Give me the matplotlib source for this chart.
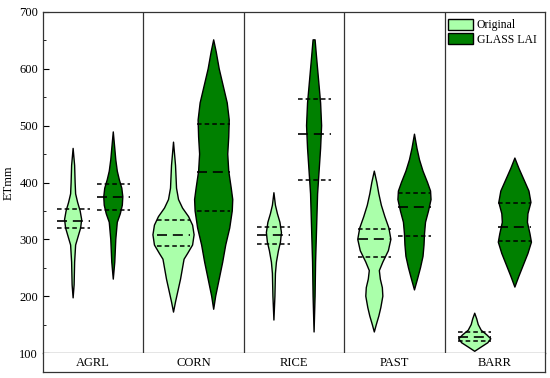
import numpy as np
import matplotlib.pyplot as plt
from matplotlib.patches import Patch
from matplotlib.ticker import MultipleLocator

plt.rcParams['font.family'] = ['Liberation Serif', 'DejaVu Serif']

categories = ['AGRL', 'CORN', 'RICE', 'PAST', 'BARR']
series = ['Original', 'GLASS LAI']
colors = ['#aaffaa', '#008000']

# violin outlines: ET value, half width (in px of a 100 px group)
orig_y = [
    [197, 220, 260, 290, 305, 320, 335, 350, 365, 380, 400, 430, 460],
    [172, 190, 210, 230, 250, 265, 275, 290, 308, 325, 340, 355, 370, 390, 430, 471],
    [158, 200, 240, 260, 280, 295, 312, 330, 345, 360, 382],
    [137, 150, 165, 180, 200, 215, 230, 245, 260, 280, 300, 320, 340, 360, 380, 400, 420],
    [103, 110, 118, 125, 132, 140, 150, 160, 170],
]
orig_w = [
    [0, 1, 1.5, 2.5, 5, 7.5, 8.5, 7, 4.5, 2.5, 2, 1.5, 0],
    [0, 2, 4.5, 7, 9, 10.5, 14, 19, 20.5, 19, 15, 9, 5, 3, 2, 0],
    [0, 1, 1.5, 2.5, 4.5, 6.5, 7.5, 6, 3.5, 1.5, 0],
    [0, 2, 4.5, 6.5, 8.5, 8, 6, 5, 8.5, 14, 16.5, 14.5, 10.5, 7, 4.5, 2.5, 0],
    [0, 6, 13, 16, 12, 6.5, 3.5, 2, 0],
]
glass_y = [
    [230, 260, 300, 330, 345, 360, 375, 390, 405, 420, 440, 460, 489],
    [177, 200, 230, 260, 290, 320, 350, 370, 390, 420, 450, 480, 510, 540, 570, 600, 630, 651],
    [137, 200, 260, 320, 380, 420, 460, 500, 540, 580, 620, 651],
    [211, 230, 250, 270, 290, 310, 330, 350, 370, 385, 400, 420, 440, 460, 485],
    [216, 235, 255, 275, 295, 310, 330, 345, 365, 385, 405, 425, 443],
]
glass_w = [
    [0, 1.5, 2.5, 4, 7, 9, 9.5, 8.5, 6, 4, 2.5, 1.5, 0],
    [0, 2, 5.5, 9, 12, 16, 18.5, 19, 17.5, 15, 14, 15, 15.5, 13.5, 9.5, 5.5, 2.5, 0],
    [0, 1, 1.5, 2.5, 3.5, 5, 6.5, 7.5, 6.5, 4.5, 2.5, 1],
    [0, 3, 6, 8.5, 9.5, 10, 11, 14, 16.5, 16, 13, 8.5, 5, 2.5, 0],
    [0, 4, 8.5, 13, 16.5, 15, 12.5, 13, 16, 14, 9, 4, 0],
]

# quartiles (q1, median, q3)
orig_q = [[320, 333, 353], [288, 308, 334], [292, 308, 322], [269, 300, 318], [121, 128, 137]]
glass_q = [[352, 374, 397], [350, 418, 503], [404, 485, 547], [306, 357, 381], [297, 322, 364]]

fig = plt.figure(figsize=(5.5, 3.78), dpi=100)
ax = fig.add_axes([43/550, 25/378, 502/550, 341/378])
lab = fig.add_axes([43/550, 6/378, 502/550, 19/378])


def violin(x, ys, ws, q, color):
    ys = np.array(ys, dtype=float)
    ws = np.array(ws, dtype=float) / 100
    xs = np.concatenate([x - ws, (x + ws)[::-1]])
    yy = np.concatenate([ys, ys[::-1]])
    ax.fill(xs, yy, facecolor=color, edgecolor='black', lw=1, joinstyle='round', zorder=2)
    h = 0.165
    ax.plot([x - h, x + h], [q[0], q[0]], color='black', lw=1.1, ls=(0, (3, 2)), zorder=3)
    ax.plot([x - h, x + h], [q[2], q[2]], color='black', lw=1.1, ls=(0, (3, 2)), zorder=3)
    ax.plot([x - h, x + h], [q[1], q[1]], color='black', lw=1.2, ls=(0, (6, 3.5)), zorder=3)


for i in range(len(categories)):
    violin(i - 0.2, orig_y[i], orig_w[i], orig_q[i], colors[0])
    violin(i + 0.2, glass_y[i], glass_w[i], glass_q[i], colors[1])
    if i > 0:
        ax.axvline(i - 0.5, color='#333333', lw=0.9, zorder=1)

ax.set_xlim(-0.5, len(categories) - 0.5)
ax.set_ylim(100, 700)
ax.set_xticks([])
ax.yaxis.set_major_locator(MultipleLocator(100))
ax.yaxis.set_minor_locator(MultipleLocator(50))
ax.tick_params(axis='y', which='major', direction='in', length=4, labelsize=9)
ax.tick_params(axis='y', which='minor', direction='in', length=2.5)
ax.set_ylabel('ETmm', fontsize=9)
ax.yaxis.set_label_coords(-0.056, 0.5)
for s in ax.spines.values():
    s.set_linewidth(0.9)
    s.set_color('#333333')

lab.set_xlim(-0.5, len(categories) - 0.5)
lab.set_ylim(0, 1)
lab.set_xticks([])
lab.set_yticks([])
lab.spines['top'].set_visible(False)
for s in lab.spines.values():
    s.set_linewidth(0.9)
    s.set_color('#333333')
for i, c in enumerate(categories):
    lab.text(i, 0.45, c, ha='center', va='center', fontsize=9)

handles = [Patch(facecolor=colors[k], edgecolor='black', lw=1, label=series[k]) for k in range(2)]
ax.legend(handles=handles, loc='upper right', bbox_to_anchor=(0.997, 1.0), frameon=False,
          fontsize=8.5, handlelength=2.1, handleheight=1.0, handletextpad=0.3,
          labelspacing=0.15, borderaxespad=0.2)

fig.savefig('out.png', dpi=100)
